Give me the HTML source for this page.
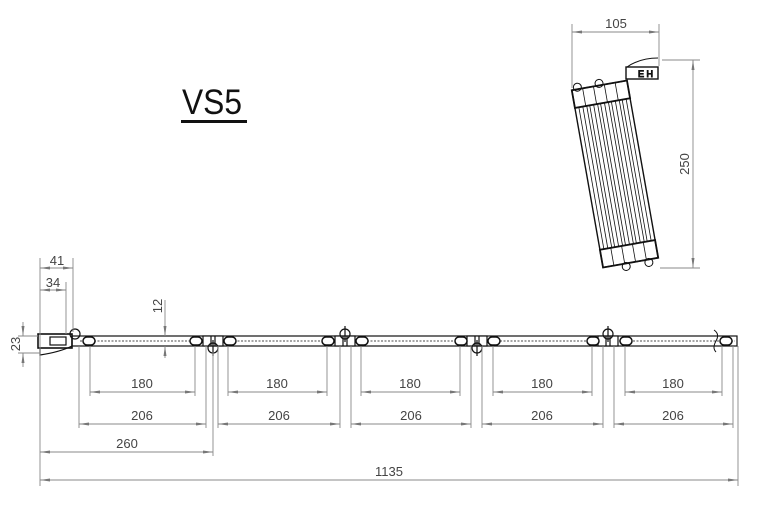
<!DOCTYPE html>
<html><head><meta charset="utf-8"><style>
html,body{margin:0;padding:0;background:#fff;}
svg{display:block;}
text{font-family:"Liberation Sans",sans-serif;fill:#444;font-size:13px;}
</style></head><body>
<svg width="762" height="524" viewBox="0 0 762 524" xmlns="http://www.w3.org/2000/svg">
<defs>
<marker id="a" viewBox="0 0 10 6" refX="10" refY="3" markerWidth="10" markerHeight="6" orient="auto-start-reverse" markerUnits="userSpaceOnUse"><path d="M0,1.5 L10,3 L0,4.5z" fill="#777"/></marker>
</defs>
<text x="182" y="114" font-size="35" textLength="60" lengthAdjust="spacingAndGlyphs" style="fill:#111;font-size:35px">VS5</text>
<rect x="181" y="120" width="66" height="3" fill="#111"/>

<g stroke="#111" fill="none" stroke-width="1.2">
<rect x="72" y="336" width="665" height="10"/>
<line x1="80" y1="341" x2="735" y2="341" stroke-dasharray="2 1.5" stroke-width="0.8"/>
<rect x="38" y="334" width="34" height="14" stroke-width="1.6"/>
<path d="M40,348 L40,355 Q60,352 72,346"/>
<rect x="50" y="337" width="16" height="8"/>
<circle cx="75" cy="334" r="5"/>
</g>
<g stroke="#111" fill="none" stroke-width="1.2">
<g transform="translate(213,0)"><rect x="-10" y="336" width="20" height="10" fill="#fff"/><line x1="-2" y1="336" x2="-2" y2="346"/><line x1="2" y1="336" x2="2" y2="346"/><circle cx="0" cy="348" r="5"/><line x1="0" y1="340" x2="0" y2="356"/></g>
<g transform="translate(345,0)"><rect x="-10" y="336" width="20" height="10" fill="#fff"/><line x1="-2" y1="336" x2="-2" y2="346"/><line x1="2" y1="336" x2="2" y2="346"/><circle cx="0" cy="334" r="5"/><line x1="0" y1="326" x2="0" y2="342"/></g>
<g transform="translate(477,0)"><rect x="-10" y="336" width="20" height="10" fill="#fff"/><line x1="-2" y1="336" x2="-2" y2="346"/><line x1="2" y1="336" x2="2" y2="346"/><circle cx="0" cy="348" r="5"/><line x1="0" y1="340" x2="0" y2="356"/></g>
<g transform="translate(608,0)"><rect x="-10" y="336" width="20" height="10" fill="#fff"/><line x1="-2" y1="336" x2="-2" y2="346"/><line x1="2" y1="336" x2="2" y2="346"/><circle cx="0" cy="334" r="5"/><line x1="0" y1="326" x2="0" y2="342"/></g>
<g fill="#fff" stroke-width="1.5">
<rect x="83" y="337" width="12" height="8" rx="4"/>
<rect x="190" y="337" width="12" height="8" rx="4"/>
<rect x="224" y="337" width="12" height="8" rx="4"/>
<rect x="322" y="337" width="12" height="8" rx="4"/>
<rect x="356" y="337" width="12" height="8" rx="4"/>
<rect x="455" y="337" width="12" height="8" rx="4"/>
<rect x="488" y="337" width="12" height="8" rx="4"/>
<rect x="587" y="337" width="12" height="8" rx="4"/>
<rect x="620" y="337" width="12" height="8" rx="4"/>
<rect x="720" y="337" width="12" height="8" rx="4"/>
</g>
<path d="M714,330 Q720,334 716,341 Q712,348 716,352" stroke-width="1"/>
</g>

<g stroke="#888" stroke-width="0.9" fill="none">
<line x1="40" y1="258" x2="40" y2="486"/>
<line x1="73" y1="258" x2="73" y2="332"/>
<line x1="66" y1="282" x2="66" y2="334"/>
<line x1="79" y1="346" x2="79" y2="428"/>
<line x1="90" y1="346" x2="90" y2="396"/>
<line x1="195" y1="346" x2="195" y2="396"/>
<line x1="206" y1="346" x2="206" y2="428"/>
<line x1="213" y1="352" x2="213" y2="456"/>
<line x1="218" y1="346" x2="218" y2="428"/>
<line x1="228" y1="346" x2="228" y2="396"/>
<line x1="327" y1="346" x2="327" y2="396"/>
<line x1="340" y1="346" x2="340" y2="428"/>
<line x1="351" y1="346" x2="351" y2="428"/>
<line x1="361" y1="346" x2="361" y2="396"/>
<line x1="460" y1="346" x2="460" y2="396"/>
<line x1="471" y1="346" x2="471" y2="428"/>
<line x1="482" y1="346" x2="482" y2="428"/>
<line x1="493" y1="346" x2="493" y2="396"/>
<line x1="592" y1="346" x2="592" y2="396"/>
<line x1="603" y1="346" x2="603" y2="428"/>
<line x1="614" y1="346" x2="614" y2="428"/>
<line x1="625" y1="346" x2="625" y2="396"/>
<line x1="722" y1="346" x2="722" y2="396"/>
<line x1="733" y1="346" x2="733" y2="428"/>
<line x1="738" y1="346" x2="738" y2="486"/>
<line x1="18" y1="336" x2="38" y2="336"/>
<line x1="18" y1="353" x2="40" y2="353"/>
<line x1="40" y1="268" x2="73" y2="268" marker-start="url(#a)" marker-end="url(#a)"/>
<line x1="40" y1="290" x2="66" y2="290" marker-start="url(#a)" marker-end="url(#a)"/>
<line x1="23" y1="322" x2="23" y2="336" marker-end="url(#a)"/>
<line x1="23" y1="367" x2="23" y2="353" marker-end="url(#a)"/>
<line x1="165" y1="300" x2="165" y2="336" marker-end="url(#a)"/>
<line x1="165" y1="358" x2="165" y2="346" marker-end="url(#a)"/>
<g marker-start="url(#a)" marker-end="url(#a)">
<line x1="90" y1="392" x2="195" y2="392"/>
<line x1="228" y1="392" x2="327" y2="392"/>
<line x1="361" y1="392" x2="460" y2="392"/>
<line x1="493" y1="392" x2="592" y2="392"/>
<line x1="625" y1="392" x2="722" y2="392"/>
<line x1="79" y1="424" x2="206" y2="424"/>
<line x1="218" y1="424" x2="340" y2="424"/>
<line x1="351" y1="424" x2="471" y2="424"/>
<line x1="482" y1="424" x2="603" y2="424"/>
<line x1="614" y1="424" x2="733" y2="424"/>
<line x1="40" y1="452" x2="213" y2="452"/>
<line x1="40" y1="480" x2="738" y2="480"/>
<line x1="572" y1="32" x2="659" y2="32"/>
<line x1="693" y1="60" x2="693" y2="268"/>
</g>
<line x1="572" y1="24" x2="572" y2="88"/>
<line x1="659" y1="24" x2="659" y2="66"/>
<line x1="662" y1="60" x2="700" y2="60"/>
<line x1="660" y1="268" x2="700" y2="268"/>
</g>
<g text-anchor="middle">
<text x="57" y="265">41</text>
<text x="53" y="287">34</text>
<text x="142" y="388">180</text>
<text x="277" y="388">180</text>
<text x="410" y="388">180</text>
<text x="542" y="388">180</text>
<text x="673" y="388">180</text>
<text x="142" y="420">206</text>
<text x="279" y="420">206</text>
<text x="411" y="420">206</text>
<text x="542" y="420">206</text>
<text x="673" y="420">206</text>
<text x="127" y="448">260</text>
<text x="389" y="476">1135</text>
<text x="616" y="28">105</text>
<text transform="translate(20,344) rotate(-90)">23</text>
<text transform="translate(162,306) rotate(-90)">12</text>
<text transform="translate(689,164) rotate(-90)">250</text>
</g>

<g stroke="#111" fill="none" stroke-width="1">
<rect x="626" y="67" width="32" height="12" stroke-width="1.4"/>
<path d="M627,67 Q640,58 658,58" stroke-width="1"/>
<text x="638" y="77" style="font-size:9px;fill:#111">E H</text>
<g transform="translate(615,174) rotate(-10)">
<rect x="-28" y="-90" width="56" height="180" stroke-width="1.4"/>
<rect x="-28" y="-90" width="56" height="18" stroke-width="1.8"/>
<rect x="-28" y="72" width="56" height="18" stroke-width="1.8"/>
<g stroke-width="0.8">
<line x1="-24" y1="-72" x2="-24" y2="72"/><line x1="-20" y1="-72" x2="-20" y2="72"/>
<line x1="-16" y1="-72" x2="-16" y2="72"/><line x1="-13" y1="-72" x2="-13" y2="72"/>
<line x1="-9" y1="-72" x2="-9" y2="72"/><line x1="-5" y1="-72" x2="-5" y2="72"/>
<line x1="-2" y1="-72" x2="-2" y2="72"/><line x1="2" y1="-72" x2="2" y2="72"/>
<line x1="6" y1="-72" x2="6" y2="72"/><line x1="9" y1="-72" x2="9" y2="72"/>
<line x1="13" y1="-72" x2="13" y2="72"/><line x1="17" y1="-72" x2="17" y2="72"/>
<line x1="20" y1="-72" x2="20" y2="72"/><line x1="24" y1="-72" x2="24" y2="72"/>
<line x1="-17" y1="-90" x2="-17" y2="-72"/><line x1="-6" y1="-90" x2="-6" y2="-72"/>
<line x1="5" y1="-90" x2="5" y2="-72"/><line x1="16" y1="-90" x2="16" y2="-72"/>
<line x1="-17" y1="72" x2="-17" y2="90"/><line x1="-6" y1="72" x2="-6" y2="90"/>
<line x1="5" y1="72" x2="5" y2="90"/><line x1="16" y1="72" x2="16" y2="90"/>
</g>
<circle cx="-22" cy="-92" r="4"/><circle cx="0" cy="-92" r="4"/>
<circle cx="-5" cy="93" r="4"/><circle cx="18" cy="93" r="4"/>
</g>
</g>
</svg>
</body></html>
